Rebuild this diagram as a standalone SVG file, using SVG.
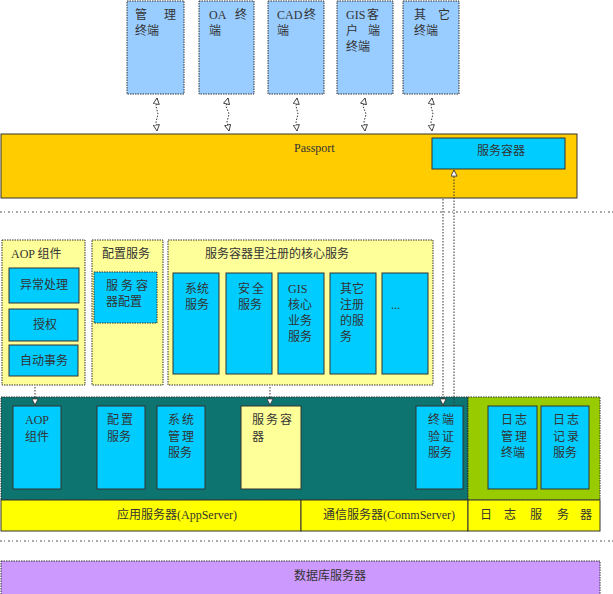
<svg xmlns="http://www.w3.org/2000/svg" width="613" height="594" viewBox="0 0 613 594">
<style>
text{font-family:'Liberation Serif','Noto Sans CJK SC',serif;font-size:12px;fill:#333}
.term{fill:#99CCFF;stroke:#333;stroke-width:1;stroke-dasharray:1.5 1}
.blue{fill:#00CCFF;stroke:#333;stroke-width:1}
.pale{fill:#FFFF99;stroke:#333;stroke-width:1;stroke-dasharray:1.5 1}
.bar{fill:#FFFF00;stroke:#333;stroke-width:1}
.sep{stroke:#555;stroke-width:1;stroke-dasharray:2 2 1 3}
.conn{fill:none;stroke:#333;stroke-width:1;stroke-dasharray:1.5 1.5}
</style>
<defs>
<marker id="ah" viewBox="0 0 8 8" refX="7.5" refY="4" markerWidth="7" markerHeight="7" orient="auto-start-reverse" markerUnits="userSpaceOnUse">
<path d="M0.5,0.5 L7.5,4 L0.5,7.5 z" fill="#fff" stroke="#333" stroke-width="1"/>
</marker>
</defs>
<rect width="613" height="594" fill="#fff"/>

<!-- top terminals -->
<g id="term1"><rect class="term" x="127" y="1" width="57" height="93"/><text><tspan x="135" y="19">管</tspan><tspan x="164" y="19">理</tspan><tspan x="135" y="35">终端</tspan></text></g>
<g id="term2"><rect class="term" x="199" y="1" width="55" height="93"/><text><tspan x="209" y="19">OA</tspan><tspan x="235" y="19">终</tspan><tspan x="209" y="35">端</tspan></text></g>
<g id="term3"><rect class="term" x="268" y="1" width="56" height="93"/><text><tspan x="277" y="19">CAD</tspan><tspan x="304" y="19">终</tspan><tspan x="277" y="35">端</tspan></text></g>
<g id="term4"><rect class="term" x="337" y="1" width="56" height="93"/><text><tspan x="346" y="19">GIS</tspan><tspan x="367" y="19">客</tspan><tspan x="346" y="35">户</tspan><tspan x="368" y="35">端</tspan><tspan x="346" y="51">终端</tspan></text></g>
<g id="term5"><rect class="term" x="403" y="1" width="56" height="93"/><text><tspan x="414" y="19">其</tspan><tspan x="438" y="19">它</tspan><tspan x="414" y="35">终端</tspan></text></g>

<!-- passport -->
<g id="passport">
<rect x="1" y="134" width="576" height="64" fill="#FFCC00" stroke="#333" stroke-width="1"/>
<text x="294" y="152">Passport</text>
</g>
<g id="passport-container">
<rect x="432" y="138" width="133" height="31" fill="#00CCFF" stroke="#333" stroke-width="1"/>
<text x="477" y="155">服务容器</text>
</g>

<!-- separators -->
<line class="sep" x1="0" y1="212" x2="613" y2="212"/>
<line class="sep" x1="0" y1="541" x2="613" y2="541"/>

<!-- AOP panel -->
<g id="aop-panel">
<rect class="pale" x="2" y="240" width="83" height="145"/>
<text x="11" y="258">AOP 组件</text>
<rect class="blue" x="9" y="268" width="70" height="35"/><text x="20" y="289">异常处理</text>
<rect class="blue" x="9" y="309" width="69" height="32" stroke="#fff"/><text x="33" y="329">授权</text>
<rect class="blue" x="9" y="345" width="69" height="31"/><text x="20" y="365">自动事务</text>
</g>

<!-- config panel -->
<g id="config-panel">
<rect class="pale" x="92" y="240" width="71" height="145"/>
<text x="102" y="258">配置服务</text>
<rect class="blue" x="94" y="272" width="63" height="51" stroke-dasharray="1.5 1"/>
<text><tspan x="106" y="290">服</tspan><tspan x="121" y="290">务</tspan><tspan x="136" y="290">容</tspan><tspan x="106" y="306">器配置</tspan></text>
</g>

<!-- core services panel -->
<g id="core-panel">
<rect class="pale" x="168" y="240" width="265" height="145"/>
<text x="205" y="258">服务容器里注册的核心服务</text>
</g>
<g id="svc-sys"><rect class="blue" x="173" y="273" width="46" height="101"/><text><tspan x="185" y="293">系统</tspan><tspan x="185" y="309">服务</tspan></text></g>
<g id="svc-sec"><rect class="blue" x="226" y="273" width="46" height="101"/><text><tspan x="238" y="293">安</tspan><tspan x="252" y="293">全</tspan><tspan x="238" y="309">服务</tspan></text></g>
<g id="svc-gis"><rect class="blue" x="278" y="273" width="46" height="101"/><text><tspan x="288" y="293">GIS</tspan><tspan x="288" y="309">核心</tspan><tspan x="288" y="325">业务</tspan><tspan x="288" y="341">服务</tspan></text></g>
<g id="svc-other"><rect class="blue" x="330" y="273" width="46" height="101"/><text><tspan x="340" y="293">其它</tspan><tspan x="340" y="309">注册</tspan><tspan x="340" y="325">的服</tspan><tspan x="340" y="341">务</tspan></text></g>
<g id="svc-more"><rect class="blue" x="382" y="273" width="46" height="101"/><text x="391" y="309">...</text></g>

<!-- app server area -->
<g id="appserver-area">
<rect x="1" y="397" width="467" height="103" fill="#0D7470" stroke="#333" stroke-width="1" stroke-dasharray="1.5 1"/>
</g>
<g id="log-area">
<rect x="468" y="397" width="132" height="103" fill="#99CC00" stroke="#333" stroke-width="1" stroke-dasharray="1.5 1"/>
</g>

<g id="b-aop"><rect class="blue" x="13" y="406" width="48" height="83"/><text><tspan x="25" y="424">AOP</tspan><tspan x="25" y="441">组件</tspan></text></g>
<g id="b-config"><rect class="blue" x="97" y="406" width="48" height="83"/><text><tspan x="107" y="424">配</tspan><tspan x="121" y="424">置</tspan><tspan x="107" y="441">服务</tspan></text></g>
<g id="b-sysmgr"><rect class="blue" x="157" y="406" width="48" height="83"/><text><tspan x="168" y="424">系</tspan><tspan x="182" y="424">统</tspan><tspan x="168" y="441">管</tspan><tspan x="182" y="441">理</tspan><tspan x="168" y="457">服务</tspan></text></g>
<g id="b-container"><rect x="241" y="406" width="60" height="83" fill="#FFFF99" stroke="#333" stroke-width="1"/><text><tspan x="252" y="424">服</tspan><tspan x="266" y="424">务</tspan><tspan x="280" y="424">容</tspan><tspan x="252" y="441">器</tspan></text></g>
<g id="b-auth"><rect class="blue" x="416" y="406" width="47" height="83"/><text><tspan x="428" y="424">终</tspan><tspan x="442" y="424">端</tspan><tspan x="428" y="441">验</tspan><tspan x="442" y="441">证</tspan><tspan x="428" y="457">服务</tspan></text></g>
<g id="b-logmgr"><rect class="blue" x="488" y="406" width="49" height="83"/><text><tspan x="501" y="424">日</tspan><tspan x="515" y="424">志</tspan><tspan x="501" y="441">管</tspan><tspan x="515" y="441">理</tspan><tspan x="501" y="457">终端</tspan></text></g>
<g id="b-logrec"><rect class="blue" x="541" y="406" width="48" height="83"/><text><tspan x="553" y="424">日</tspan><tspan x="567" y="424">志</tspan><tspan x="553" y="441">记</tspan><tspan x="567" y="441">录</tspan><tspan x="553" y="457">服务</tspan></text></g>

<!-- server bars -->
<g id="bar-app"><rect class="bar" x="1" y="500" width="300" height="31"/><text x="117" y="519">应用服务器(AppServer)</text></g>
<g id="bar-comm"><rect class="bar" x="301" y="500" width="167" height="31"/><text x="323" y="519">通信服务器(CommServer)</text></g>
<g id="bar-log"><rect class="bar" x="468" y="500" width="132" height="31"/><text><tspan x="480" y="519">日</tspan><tspan x="504" y="519">志</tspan><tspan x="530" y="519">服</tspan><tspan x="557" y="519">务</tspan><tspan x="580" y="519">器</tspan></text></g>

<!-- database -->
<g id="database">
<rect x="1" y="561" width="599" height="34" fill="#CC99FF" stroke="#333" stroke-width="1" stroke-dasharray="1.5 1"/>
<text x="294" y="580">数据库服务器</text>
</g>

<!-- connectors -->
<g id="connectors">
<path class="conn" d="M157,98 L156,106 L158,114 L156,122 L157,131" marker-start="url(#ah)" marker-end="url(#ah)"/>
<path class="conn" d="M228,98 L226,106 L229,114 L227,122 L229,131" marker-start="url(#ah)" marker-end="url(#ah)"/>
<path class="conn" d="M297,98 L296,106 L298,114 L296,122 L297,131" marker-start="url(#ah)" marker-end="url(#ah)"/>
<path class="conn" d="M365,98 L363,106 L366,114 L364,122 L365,131" marker-start="url(#ah)" marker-end="url(#ah)"/>
<path class="conn" d="M432,98 L431,106 L433,114 L431,122 L432,131" marker-start="url(#ah)" marker-end="url(#ah)"/>
<path class="conn" d="M35,387 L35,405" marker-end="url(#ah)"/>
<path class="conn" d="M270,387 L270,405" marker-end="url(#ah)"/>
<path class="conn" d="M443,199 L443,405" marker-end="url(#ah)"/>
<path class="conn" d="M454,406 L454,170" marker-end="url(#ah)"/>
</g>
</svg>
